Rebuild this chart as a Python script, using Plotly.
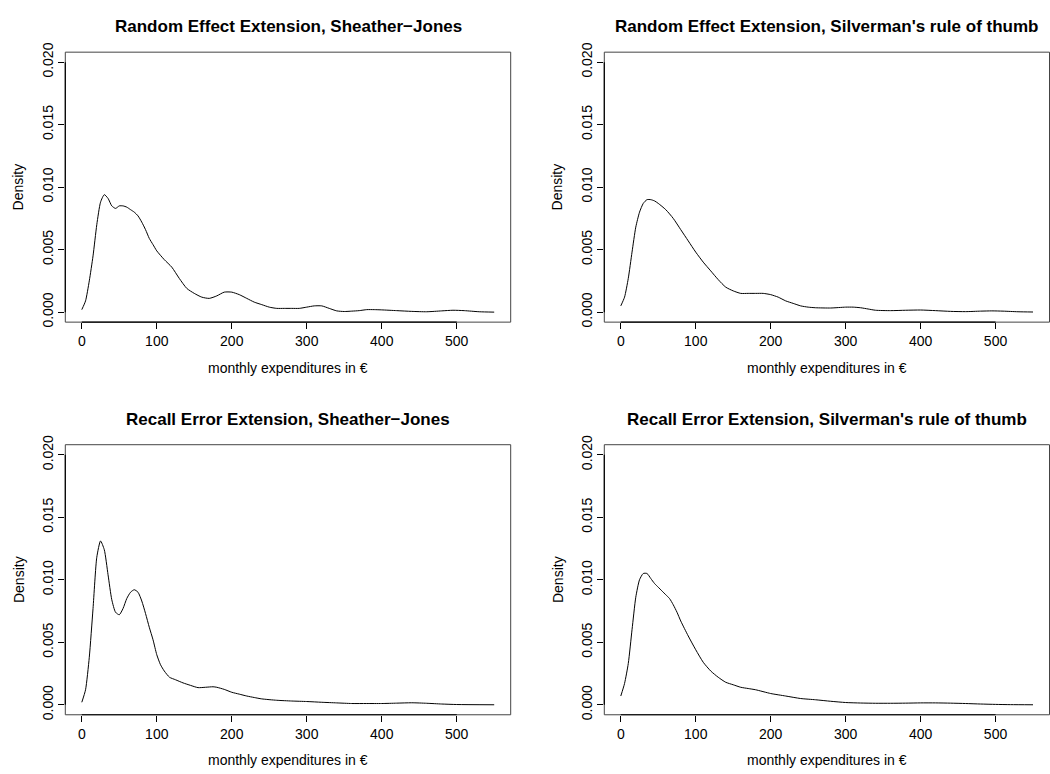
import plotly.graph_objects as go

# ---------------- data ----------------
titles = [
    "Random Effect Extension, Sheather\u2212Jones",
    "Random Effect Extension, Silverman's rule of thumb",
    "Recall Error Extension, Sheather\u2212Jones",
    "Recall Error Extension, Silverman's rule of thumb",
]
x_label = "monthly expenditures in \u20ac"
y_label = "Density"

x_ticks = [0, 100, 200, 300, 400, 500]
y_ticks = [0.0, 0.005, 0.010, 0.015, 0.020]
y_tick_text = ["0.000", "0.005", "0.010", "0.015", "0.020"]

re_sj_x = [0, 5, 10, 15, 20, 25, 30, 35, 40, 45, 50, 55, 60, 65, 70, 75, 80, 85, 90, 95,
           100, 110, 120, 130, 140, 150, 160, 170, 180, 190, 200, 210, 220, 230, 240, 250,
           260, 270, 280, 290, 300, 310, 320, 330, 340, 350, 360, 370, 380, 390, 400, 420,
           440, 460, 480, 495, 510, 530, 550]
re_sj_y = [0.0002, 0.0009, 0.0025, 0.0045, 0.0070, 0.0088, 0.0094, 0.0091, 0.0085, 0.0083,
           0.0085, 0.0085, 0.0084, 0.0082, 0.0080, 0.0077, 0.0072, 0.0066, 0.0059, 0.0054,
           0.0049, 0.0042, 0.0036, 0.0027, 0.0019, 0.0015, 0.0012, 0.0011, 0.0013, 0.0016,
           0.0016, 0.0014, 0.0011, 0.0008, 0.0006, 0.0004, 0.0003, 0.0003, 0.0003, 0.0003,
           0.0004, 0.0005, 0.0005, 0.0003, 0.0001, 0.00005, 0.00008, 0.00012, 0.0002, 0.0002,
           0.00018, 0.00012, 0.00006, 0.00003, 0.0001, 0.00015, 0.00012, 0.00003, 0.0]

re_sv_x = [0, 5, 10, 15, 20, 25, 30, 35, 40, 45, 50, 60, 70, 80, 90, 100, 110, 120, 130, 140,
           150, 160, 170, 180, 190, 200, 210, 220, 230, 240, 250, 260, 280, 300, 310, 320, 330,
           340, 360, 380, 400, 420, 440, 460, 480, 495, 510, 530, 550]
re_sv_y = [0.0005, 0.0012, 0.0027, 0.0048, 0.0068, 0.0080, 0.0087, 0.0090, 0.0090, 0.0089,
           0.0087, 0.0082, 0.0075, 0.0066, 0.0057, 0.0048, 0.0040, 0.0033, 0.0026, 0.0020,
           0.0017, 0.0015, 0.0015, 0.0015, 0.0015, 0.0014, 0.0012, 0.0009, 0.0007, 0.0005,
           0.0004, 0.00035, 0.00033, 0.0004, 0.0004, 0.00035, 0.00025, 0.00015, 0.00012, 0.00015,
           0.00017, 0.00012, 0.00006, 0.00004, 0.00008, 0.0001, 0.00008, 0.00003, 0.00001]

rc_sj_x = [0, 5, 10, 15, 20, 25, 30, 35, 40, 45, 50, 55, 60, 65, 70, 75, 80, 85, 90, 95, 100,
           105, 110, 117, 125, 135, 145, 155, 165, 175, 180, 190, 200, 210, 220, 230, 240, 260,
           280, 300, 320, 340, 360, 380, 400, 420, 440, 460, 480, 500, 550]
rc_sj_y = [0.0002, 0.0012, 0.0038, 0.0077, 0.0118, 0.0131, 0.0124, 0.0104, 0.0084, 0.0074,
           0.0072, 0.0077, 0.0085, 0.0090, 0.0092, 0.0090, 0.0083, 0.0073, 0.0062, 0.0052,
           0.0040, 0.0032, 0.0027, 0.0022, 0.0020, 0.00175, 0.00155, 0.00137, 0.0014, 0.00144,
           0.0014, 0.00123, 0.0010, 0.00085, 0.0007, 0.00058, 0.00047, 0.00036, 0.0003, 0.00026,
           0.0002, 0.00015, 0.0001, 0.0001, 0.0001, 0.00013, 0.00016, 0.00012, 0.00006,
           0.00002, 0.0]

rc_sv_x = [0, 5, 10, 15, 20, 25, 30, 35, 40, 45, 50, 55, 60, 65, 70, 75, 80, 90, 100, 110,
           120, 130, 140, 150, 160, 170, 180, 200, 220, 240, 260, 280, 300, 320, 340, 360, 380,
           400, 420, 440, 460, 480, 500, 520, 550]
rc_sv_y = [0.0007, 0.0017, 0.0033, 0.0060, 0.0086, 0.0100, 0.0105, 0.0105, 0.0101, 0.0097,
           0.0094, 0.0091, 0.0088, 0.0085, 0.0080, 0.0074, 0.0067, 0.0055, 0.0044, 0.0034,
           0.0027, 0.0022, 0.0018, 0.0016, 0.0014, 0.0013, 0.0012, 0.0009, 0.0007, 0.0005,
           0.0004, 0.00028, 0.00018, 0.00014, 0.00012, 0.00012, 0.00013, 0.00015, 0.00015,
           0.00013, 0.0001, 0.00006, 0.00003, 0.00001, 0.0]

series = [(re_sj_x, re_sj_y), (re_sv_x, re_sv_y), (rc_sj_x, rc_sj_y), (rc_sv_x, rc_sv_y)]

# ---------------- layout ----------------
W, H = 1050, 774
FONT = "Liberation Sans, Arial, Helvetica, sans-serif"
x_range = [-22, 572]
y_range = [-0.0008, 0.0208]

# panel boxes in pixels: (left, right, top, bottom)
boxes = [
    (65.3, 510.7, 43.0, 318.3),
    (604.3, 1049.5, 43.0, 318.3),
    (65.3, 510.7, 443.3, 718.7),
    (604.3, 1049.5, 443.3, 718.7),
]

fig = go.Figure()
layout = dict(
    width=W, height=H,
    margin=dict(l=0, r=0, t=0, b=0),
    paper_bgcolor="white", plot_bgcolor="white",
    showlegend=False,
    font=dict(family=FONT, size=14, color="black"),
)
shapes = []
annotations = []

for i, ((xs, ys), (l, r, t, b)) in enumerate(zip(series, boxes)):
    n = "" if i == 0 else str(i + 1)
    xa, ya = "x" + n, "y" + n
    fig.add_trace(go.Scatter(x=xs, y=ys, mode="lines", xaxis=xa, yaxis=ya,
                             line=dict(color="black", width=1, shape="spline", smoothing=0.6),
                             hoverinfo="skip"))
    layout["xaxis" + n] = dict(
        domain=[l / W, r / W], range=x_range, anchor=ya,
        showgrid=False, zeroline=False, showline=False,
        tickmode="array", tickvals=x_ticks, ticktext=[str(v) for v in x_ticks],
        ticks="outside", ticklen=6, tickwidth=1, tickcolor="black",
        tickfont=dict(family=FONT, size=14, color="black"),
        fixedrange=True,
    )
    layout["yaxis" + n] = dict(
        domain=[1 - b / H, 1 - t / H], range=y_range, anchor=xa,
        showgrid=False, zeroline=False, showline=False,
        tickmode="array", tickvals=y_ticks, ticktext=y_tick_text, tickangle=-90,
        ticks="outside", ticklen=6, tickwidth=1, tickcolor="black",
        tickfont=dict(family=FONT, size=14, color="black"),
        fixedrange=True,
    )
    # plot box
    shapes.append(dict(type="rect", xref="paper", yref="paper",
                       x0=l / W, x1=r / W, y0=1 - b / H, y1=1 - t / H,
                       line=dict(color="#444444", width=1)))
    # axis lines spanning first to last tick
    shapes.append(dict(type="line", xref=xa, yref="paper",
                       x0=x_ticks[0], x1=x_ticks[-1], y0=1 - b / H, y1=1 - b / H,
                       line=dict(color="black", width=1.2)))
    shapes.append(dict(type="line", xref="paper", yref=ya,
                       x0=l / W, x1=l / W, y0=y_ticks[0], y1=y_ticks[-1],
                       line=dict(color="black", width=1.2)))
    cx = (l + r) / 2
    # title
    annotations.append(dict(text="<b>" + titles[i] + "</b>", xref="paper", yref="paper",
                            x=cx / W, y=1 - (t - 26) / H, xanchor="center", yanchor="middle",
                            showarrow=False, font=dict(family=FONT, size=17, color="black")))
    # x label
    annotations.append(dict(text=x_label, xref="paper", yref="paper",
                            x=cx / W, y=1 - (b + 46.5) / H, xanchor="center", yanchor="middle",
                            showarrow=False, font=dict(family=FONT, size=14, color="black")))
    # y label
    annotations.append(dict(text=y_label, xref="paper", yref="paper",
                            x=(l - 47) / W, y=1 - ((t + b) / 2) / H, xanchor="center",
                            yanchor="middle", textangle=-90,
                            showarrow=False, font=dict(family=FONT, size=14, color="black")))

layout["shapes"] = shapes
layout["annotations"] = annotations
fig.update_layout(**layout)
fig.write_html("out.html")
